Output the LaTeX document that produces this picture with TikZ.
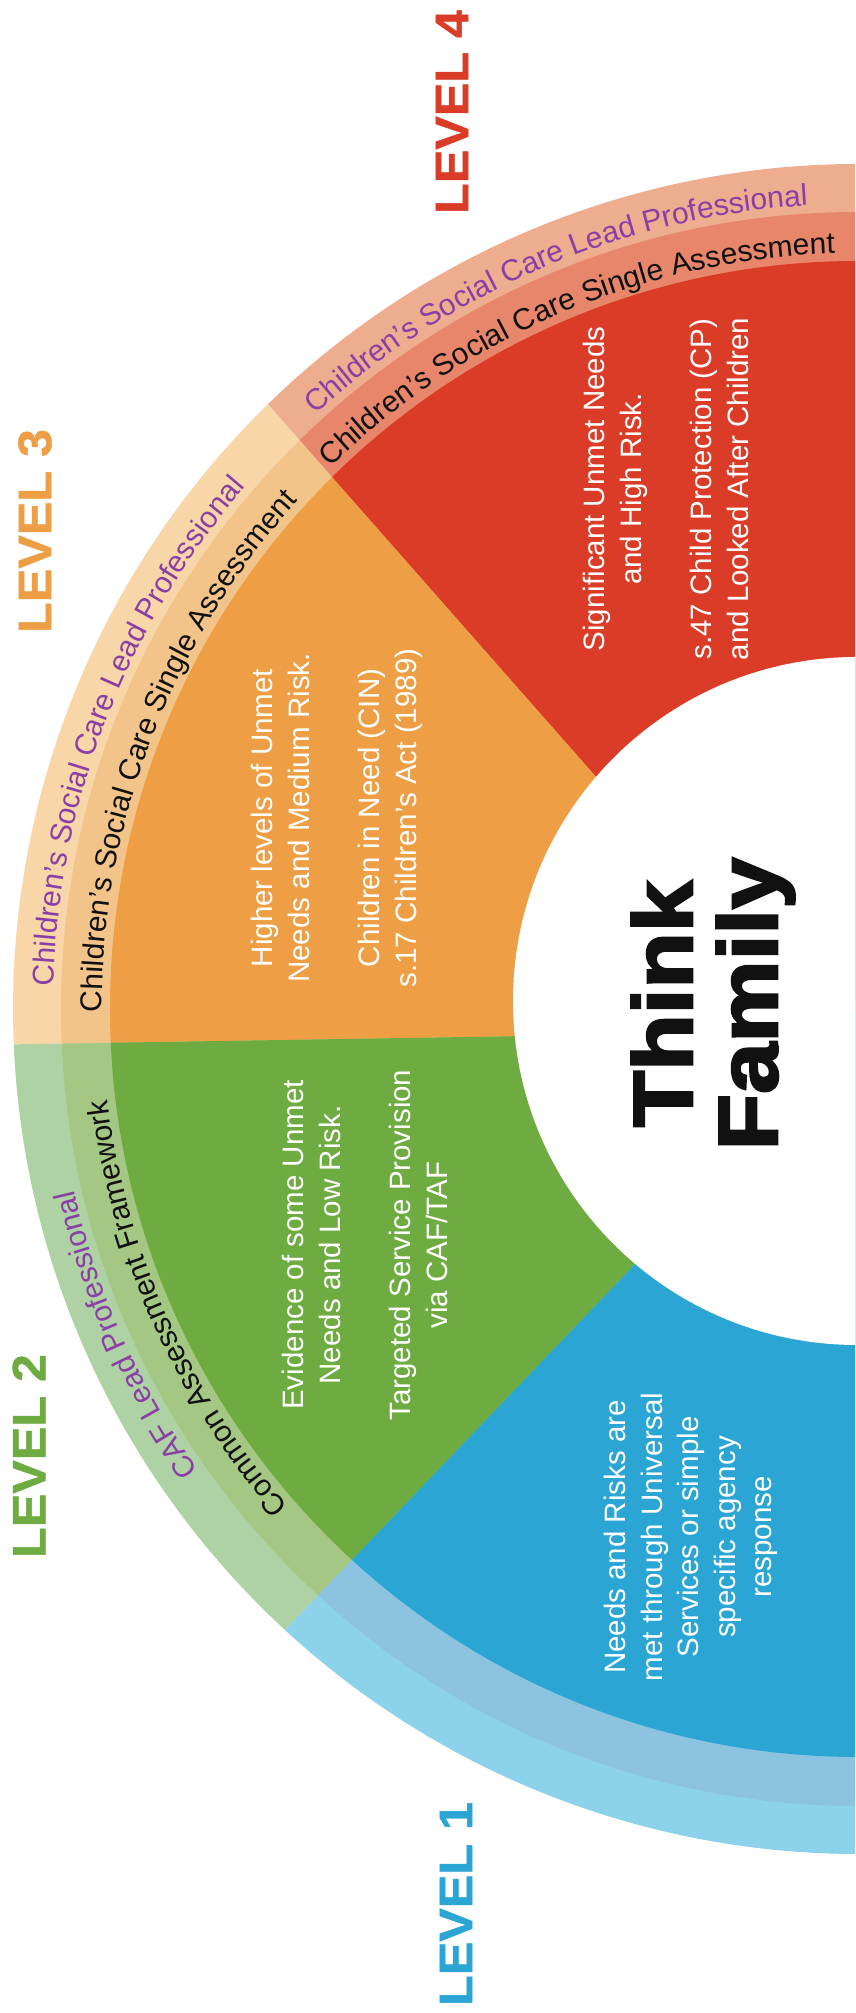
\documentclass[tikz,border=0pt]{standalone}
\usepackage{fontspec}
\setmainfont{Liberation Sans}
\setsansfont{Liberation Sans}
\newfontfamily\lvlfont{Liberation Sans Bold}[FakeBold=1, FakeStretch=1.07]
\newfontfamily\thinkfont{Liberation Sans Bold}[FakeBold=3, FakeStretch=1.1]
\usetikzlibrary{calc,decorations.text}
\definecolor{redM}{HTML}{DA3C27}
\definecolor{redR}{HTML}{E8866B}
\definecolor{redO}{HTML}{EDAD8E}
\definecolor{orgM}{HTML}{EE9F45}
\definecolor{orgR}{HTML}{F3C48A}
\definecolor{orgO}{HTML}{F8D6A8}
\definecolor{grnM}{HTML}{6EAC42}
\definecolor{grnR}{HTML}{A5C784}
\definecolor{grnO}{HTML}{AFD2A5}
\definecolor{bluM}{HTML}{2AA5D4}
\definecolor{bluR}{HTML}{8BC3E1}
\definecolor{bluO}{HTML}{8DD2EB}
\definecolor{purp}{HTML}{8A3FA6}
\definecolor{ink}{HTML}{111111}
\newcommand{\segpath}[4]{(C) -- ($(C)+(#1:348pt)$) -- ($(C)+(#2:845pt)$) arc[start angle=#2, end angle=#4, radius=845pt] -- ($(C)+(#3:348pt)$) -- cycle}
\newcommand{\ringP}{\fontsize{30}{30}\selectfont\color{purp}}
\newcommand{\ringK}{\fontsize{30}{30}\selectfont\color{ink}}
\tikzset{
  lvl/.style={font=\lvlfont\fontsize{47}{47}\selectfont, rotate=90, inner sep=0pt},
  body/.style={font=\fontsize{29.5}{36.5}\selectfont, text=white, align=center, rotate=90, inner sep=0pt},
  thinkstyle/.style={font=\thinkfont\fontsize{84}{85}\selectfont, text=ink, align=center, rotate=90, inner sep=0pt},
}
\begin{document}
\begin{tikzpicture}[x=1pt,y=1pt]
\useasboundingbox (0,0) rectangle (855,2013);
\fill[white] (0,0) rectangle (855,2013);
\clip (0,0) rectangle (855,2013);
\coordinate (C) at (858,1004);
\coordinate (W) at (857,1012);
% outer light ring colours
\fill[redO] \segpath{75}{75}{138.5}{134.3};
\fill[orgO] \segpath{138.5}{134.3}{184.5}{182.4};
\fill[grnO] \segpath{184.5}{182.4}{228.8}{227.3};
\fill[bluO] \segpath{228.8}{227.3}{285}{285};
\begin{scope}
\clip (C) circle[radius=797pt];
\fill[redR] \segpath{75}{75}{138.5}{134.3};
\fill[orgR] \segpath{138.5}{134.3}{184.5}{182.4};
\fill[grnR] \segpath{184.5}{182.4}{228.8}{227.3};
\fill[bluR] \segpath{228.8}{227.3}{285}{285};
\end{scope}
\begin{scope}
\clip (C) circle[radius=748pt];
\fill[redM] \segpath{75}{75}{138.5}{134.3};
\fill[orgM] \segpath{138.5}{134.3}{184.5}{182.4};
\fill[grnM] \segpath{184.5}{182.4}{228.8}{227.3};
\fill[bluM] \segpath{228.8}{227.3}{285}{285};
\end{scope}
\fill[white] (W) circle[radius=344pt];
% ring texts
\path[decorate, decoration={text along path, text align=center, text={|\ringP|Children’s Social Care Lead Professional}}] ($(C)+(143:805pt)$) arc[start angle=143, end angle=83, radius=805pt];
\path[decorate, decoration={text along path, text align=center, text={|\ringK|Children’s Social Care Single Assessment}}] ($(C)+(143:756pt)$) arc[start angle=143, end angle=83, radius=756pt];
\path[decorate, decoration={text along path, text align=center, text={|\ringP|Children’s Social Care Lead Professional}}] ($(C)+(189:805pt)$) arc[start angle=189, end angle=129, radius=805pt];
\path[decorate, decoration={text along path, text align=center, text={|\ringK|Children’s Social Care Single Assessment}}] ($(C)+(189:756pt)$) arc[start angle=189, end angle=129, radius=756pt];
\path[decorate, decoration={text along path, text align=center, text={|\ringP|CAF Lead Professional}}] ($(C)+(234:805pt)$) arc[start angle=234, end angle=174, radius=805pt];
\path[decorate, decoration={text along path, text align=center, text={|\ringK|Common Assessment Framework}}] ($(C)+(234:756pt)$) arc[start angle=234, end angle=174, radius=756pt];
% level labels
\node[lvl, text=redM] (l4) at (452,1901) {LEVEL 4};
\node[lvl, text=orgM] (l3) at (35,1482) {LEVEL 3};
\node[lvl, text=grnM] (l2) at (29,557) {LEVEL 2};
\node[lvl, text=bluM] (l1) at (456,109) {LEVEL 1};
% body texts
\node[body] (t4) at (666,1524) {Significant Unmet Needs\\and High Risk.\\[34pt]s.47 Child Protection (CP)\\and Looked After Children};
\node[body] (t3) at (337,1195) {Higher levels of Unmet\\Needs and Medium Risk.\\[34pt]Children in Need (CIN)\\s.17 Children’s Act (1989)};
\node[body] (t2) at (365,768) {Evidence of some Unmet\\Needs and Low Risk.\\[34pt]Targeted Service Provision\\via CAF/TAF};
\node[body] (t1) at (691,476) {Needs and Risks are\\met through Universal\\Services or simple\\specific agency\\response};
\node[thinkstyle] (tf) at (713,1009) {Think\\Family};
\end{tikzpicture}
\end{document}
